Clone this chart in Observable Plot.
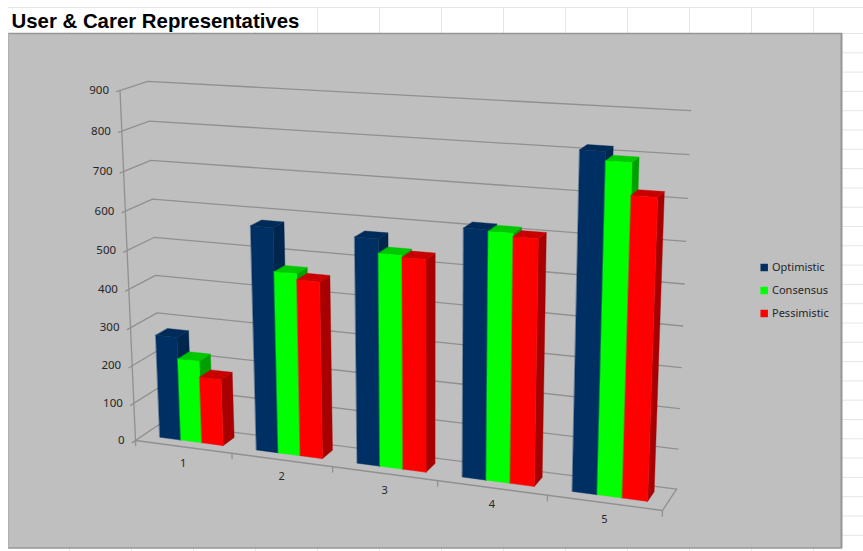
<!DOCTYPE html>
<html>
<head>
<meta charset="utf-8">
<script src="https://cdn.jsdelivr.net/npm/d3@7"></script>
<script src="https://cdn.jsdelivr.net/npm/@observablehq/plot@0.6"></script>
<style>
  html, body { margin: 0; padding: 0; background: #fff; }
  svg { display: block; }
</style>
</head>
<body>
<div id="chart"></div>
<script>
const categories = ["1", "2", "3", "4", "5"];
const seriesNames = ["Optimistic", "Consensus", "Pessimistic"];
const optimistic = [273, 578, 572, 615, 816];
const consensus = [217, 468, 537, 612, 795];
const pessimistic = [175, 453, 532, 604, 720];
const valueTicks = [0, 100, 200, 300, 400, 500, 600, 700, 800, 900];

const seriesValues = [optimistic, consensus, pessimistic];
const frontColors = ["#003063", "#00ff00", "#ff0000"];
const topColors = ["#002a58", "#00c800", "#c80000"];
const sideColors = ["#00264e", "#00a000", "#a80000"];

const valueMax = 900;
const barStart = 0.175, barWidth = 0.22;      // within a category slot
const depthFront = 0.3, depthBack = 0.75;     // within the floor's depth

// Perspective of the 3-D box: u along categories, w into the page, v upward.
const origin = [135, 440];
const uEnd = [662, 510], wEnd = [161, 422.5], vEnd = [119.5, 90];
const du = -0.104, dw = 0.026, dv = -0.05;
const column = (end, d, i) => end[i] * (1 + d) - origin[i];

function project(u, w, value) {
  const v = value / valueMax;
  const q = 1 + du * u + dw * w + dv * v;
  const at = i => (origin[i] + column(uEnd, du, i) * u + column(wEnd, dw, i) * w + column(vEnd, dv, i) * v) / q;
  return [at(0), at(1)];
}

// A path of box coordinates becomes a list of vertices tagged with its id.
let nextId = 0;
function path(points, extra = {}) {
  const id = nextId++;
  return points.map(([u, w, v]) => {
    const [px, py] = project(u, w, v);
    return {id, px, py, ...extra};
  });
}

const wallLines = valueTicks.flatMap(v => path([[0, -0.12, v], [0, 1, v], [1, 1, v]]));
const floorLines = [
  ...path([[0, 0, 0], [1, 0, 0], [1, 1, 0]]),
  ...path([[0, 0, 0], [0, 0, valueMax]]),
  ...d3.range(categories.length + 1).flatMap(i => path([[i / categories.length, 0, 0], [i / categories.length, 0, -14]]))
];

const faces = categories.flatMap((c, i) => seriesNames.flatMap((s, j) => {
  const u0 = (i + barStart + j * barWidth) / categories.length;
  const u1 = (i + barStart + (j + 1) * barWidth) / categories.length;
  const h = seriesValues[j][i];
  const w0 = depthFront, w1 = depthBack;
  return [
    ...path([[u1, w0, 0], [u1, w1, 0], [u1, w1, h], [u1, w0, h]], {color: sideColors[j]}),
    ...path([[u0, w0, h], [u1, w0, h], [u1, w1, h], [u0, w1, h]], {color: topColors[j]}),
    ...path([[u0, w0, 0], [u1, w0, 0], [u1, w0, h], [u0, w0, h]], {color: frontColors[j]})
  ];
}));

const valueLabels = valueTicks.map(v => {
  const [px, py] = project(0, 0, v);
  return {label: String(v), px, py};
});
const categoryLabels = categories.map((c, i) => {
  const [px, py] = project((i + 0.5) / categories.length, 0, 0);
  return {label: c, px, py};
});
const legend = seriesNames.map((name, j) => ({name, color: frontColors[j], py: 267 + j * 23}));

// Worksheet cells showing around the embedded chart.
const sheetColumns = d3.range(69, 863, 62);
const sheetRows = d3.range(33, 551, 19.3);

const chart = Plot.plot({
  width: 863,
  height: 551,
  margin: 0,
  x: {domain: [0, 863], range: [0, 863], axis: null},
  y: {domain: [0, 551], range: [0, 551], axis: null},
  style: {background: "#ffffff"},
  marks: [
    Plot.ruleX(sheetColumns, {x: d => d, y1: 7, y2: 551, stroke: "#e6e6e6", strokeWidth: 1}),
    Plot.ruleY(sheetRows, {y: d => d, x1: 8, x2: 863, stroke: "#e6e6e6", strokeWidth: 1}),
    Plot.ruleY([7], {y: d => d, x1: 8, x2: 863, stroke: "#e6e6e6", strokeWidth: 1}),
    Plot.rect([0], {x1: 9, x2: 316.5, y1: 8, y2: 32, fill: "#ffffff"}),
    Plot.rect([0], {x1: 8, x2: 841, y1: 33, y2: 548, fill: "#bfbfbf"}),
    Plot.ruleY([33], {y: d => d, x1: 8, x2: 842, stroke: "#969696", strokeWidth: 1.5}),
    Plot.ruleY([547.5], {y: d => d, x1: 8, x2: 842, stroke: "#969696", strokeWidth: 1.5}),
    Plot.ruleX([841], {x: d => d, y1: 33, y2: 548, stroke: "#969696", strokeWidth: 2}),
    Plot.ruleX([8], {x: d => d, y1: 33, y2: 548, stroke: "#b0b0b0", strokeWidth: 1}),
    Plot.text(["User & Carer Representatives"], {
      x: 11, y: 21, text: d => d, textAnchor: "start", fill: "#000000",
      fontFamily: "Liberation Sans", fontWeight: "bold", fontSize: 20.4
    }),
    Plot.line(wallLines, {x: "px", y: "py", z: "id", stroke: "#909090", strokeWidth: 1.3, curve: "linear"}),
    Plot.line(floorLines, {x: "px", y: "py", z: "id", stroke: "#909090", strokeWidth: 1.3, curve: "linear"}),
    Plot.line(faces, {x: "px", y: "py", z: "id", fill: "color", stroke: "color", strokeWidth: 0.4, curve: "linear-closed"}),
    Plot.text(valueLabels, {
      x: "px", y: "py", text: "label", dx: -11, textAnchor: "end", fill: "#262626",
      fontFamily: "Noto Sans", fontSize: 11.5
    }),
    Plot.text(categoryLabels, {
      x: "px", y: "py", text: "label", dy: 17, textAnchor: "middle", fill: "#262626",
      fontFamily: "Noto Sans", fontSize: 11
    }),
    Plot.dot(legend, {x: () => 763.7, y: "py", symbol: "square", r: 4.2, fill: "color", stroke: "none"}),
    Plot.text(legend, {
      x: () => 771.5, y: "py", text: "name", textAnchor: "start", fill: "#262626",
      fontFamily: "Noto Sans", fontSize: 11
    })
  ]
});
document.getElementById("chart").append(chart);
</script>
</body>
</html>
